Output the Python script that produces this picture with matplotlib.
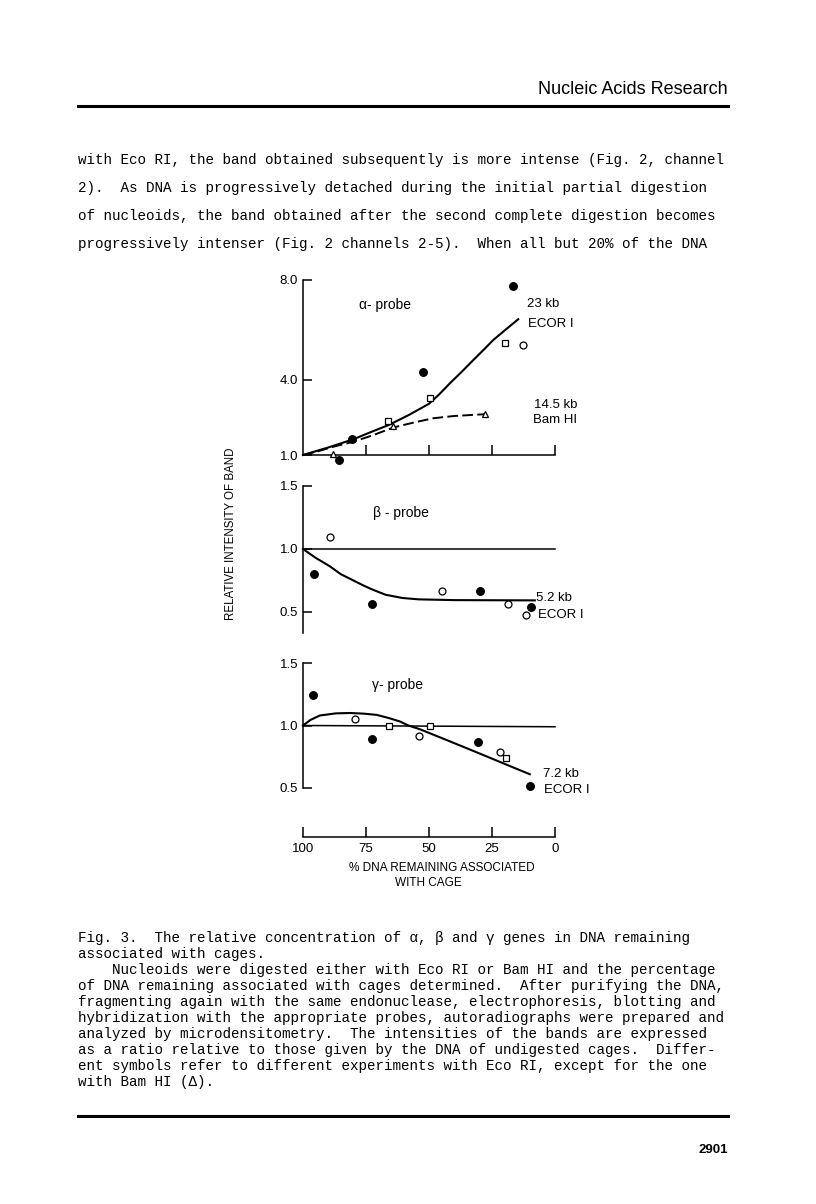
"""
plot.py - Nucleic Acids Research p.2901, Fig. 3 (alpha / beta / gamma probes)
"""
import matplotlib; matplotlib.use("Agg")
import matplotlib.pyplot as plt
from matplotlib.lines import Line2D

W, H = 816, 1204
SANS = ["Liberation Sans", "DejaVu Sans"]
MONO = ["Liberation Mono", "DejaVu Sans Mono"]
plt.rcParams["font.family"] = SANS

# --- data ---
x_ticks = [100, 75, 50, 25, 0]

# alpha probe
a_filled_x, a_filled_y = [16.5, 52.3, 80.4, 85.7], [7.76, 4.33, 1.63, 0.80]
a_square_x, a_square_y = [19.8, 49.6, 66.4], [5.47, 3.27, 2.37]
a_open_x, a_open_y = [12.6], [5.39]
a_tri_x, a_tri_y = [88.0, 64.2, 27.8], [1.04, 2.16, 2.64]
a_curve_x = [100, 90, 80, 73, 66, 58, 50, 46, 41.7, 37, 32.4, 28, 24.5, 20, 14.6]
a_curve_y = [1.0, 1.3, 1.63, 1.92, 2.2, 2.6, 3.05, 3.42, 3.87, 4.33, 4.8, 5.24, 5.6, 5.98, 6.43]
a_dash_x = [100, 94, 88, 80, 72, 64.2, 56, 48.3, 40, 30, 27.5]
a_dash_y = [1.0, 1.15, 1.33, 1.53, 1.8, 2.1, 2.3, 2.47, 2.56, 2.62, 2.63]

# beta probe
b_filled_x, b_filled_y = [95.5, 72.7, 29.8, 9.5], [0.80, 0.56, 0.67, 0.537]
b_open_x, b_open_y = [89.3, 44.7, 18.8, 11.6], [1.095, 0.67, 0.56, 0.476]
b_curve_x = [100, 95, 89.3, 85, 80.6, 76, 72.7, 67.3, 60.6, 54, 40, 8]
b_curve_y = [1.0, 0.93, 0.862, 0.8, 0.756, 0.71, 0.68, 0.637, 0.611, 0.6, 0.594, 0.592]

# gamma probe
g_filled_x, g_filled_y = [95.9, 72.7, 30.4, 9.9], [1.248, 0.888, 0.872, 0.514]
g_open_x, g_open_y = [79.4, 54.0, 21.8], [1.054, 0.912, 0.786]
g_square_x, g_square_y = [65.9, 49.6, 19.4], [0.995, 0.995, 0.738]
g_curve_x = [100, 97, 93.3, 87, 81.3, 76, 70.8, 66, 61.5, 58.2, 53.6, 45, 35, 25, 17, 10]
g_curve_y = [1.0, 1.045, 1.08, 1.097, 1.10, 1.095, 1.085, 1.06, 1.032, 1.0, 0.97, 0.9,
             0.818, 0.735, 0.668, 0.61]

body_lines = [
    "with Eco RI, the band obtained subsequently is more intense (Fig. 2, channel",
    "2).  As DNA is progressively detached during the initial partial digestion",
    "of nucleoids, the band obtained after the second complete digestion becomes",
    "progressively intenser (Fig. 2 channels 2-5).  When all but 20% of the DNA",
]
caption_lines = [
    "Fig. 3.  The relative concentration of α, β and γ genes in DNA remaining",
    "associated with cages.",
    "    Nucleoids were digested either with Eco RI or Bam HI and the percentage",
    "of DNA remaining associated with cages determined.  After purifying the DNA,",
    "fragmenting again with the same endonuclease, electrophoresis, blotting and",
    "hybridization with the appropriate probes, autoradiographs were prepared and",
    "analyzed by microdensitometry.  The intensities of the bands are expressed",
    "as a ratio relative to those given by the DNA of undigested cages.  Differ-",
    "ent symbols refer to different experiments with Eco RI, except for the one",
    "with Bam HI (Δ).",
]


def rect(x0, y0, x1, y1):
    return [x0 / W, 1 - y1 / H, (x1 - x0) / W, (y1 - y0) / H]


def ftext(x, y, s, **kw):
    fig.text(x / W, 1 - y / H, s, **kw)


def hrule(y, x0=78, x1=728, lw=2.2):
    fig.add_artist(Line2D([x0 / W, x1 / W], [1 - y / H] * 2, color="black", lw=lw))


def style(ax, yt, ylab, bottom=False):
    ax.set_xlim(100, 0)
    for s in ["top", "right"]:
        ax.spines[s].set_visible(False)
    ax.spines["bottom"].set_visible(bottom)
    ax.spines["left"].set_linewidth(1.1)
    ax.spines["bottom"].set_linewidth(1.1)
    ax.set_yticks(yt, ylab)
    ax.tick_params(axis="y", direction="in", length=6.5, width=1.1, pad=3.5, labelsize=9.5)
    if bottom:
        ax.set_xticks(x_ticks[1:], [])
        ax.tick_params(axis="x", direction="in", length=7, width=1.1)
    else:
        ax.set_xticks([])
    ax.patch.set_alpha(0)


def marks(ax, x, y, m, filled, ms):
    ax.plot(x, y, ls="none", marker=m, ms=ms, mew=0.9, mec="black",
            mfc="black" if filled else "white", clip_on=False, zorder=5)


fig = plt.figure(figsize=(W / 100, H / 100), dpi=100)

# --- page text ---
ftext(728, 90, "Nucleic Acids Research", fontsize=13, ha="right", va="center")
hrule(106)
for i, s in enumerate(body_lines):
    ftext(78, 160 + 28 * i, s, family=MONO, fontsize=10.25, va="center")
for i, s in enumerate(caption_lines):
    ftext(78, 938 + 16 * i, s, family=MONO, fontsize=10.25, va="center")
hrule(1116)
ftext(728, 1150, "2901", fontsize=9.5, weight="bold", ha="right", va="center")

# --- alpha panel ---
ax_a = fig.add_axes(rect(303, 280, 555, 455))
ax_a.set_ylim(1, 8)
style(ax_a, [1, 4, 8], ["1.0", "4.0", "8.0"], bottom=True)
ax_a.plot(a_curve_x, a_curve_y, color="black", lw=1.5, clip_on=False)
ax_a.plot(a_dash_x, a_dash_y, color="black", lw=1.4, dashes=(5.5, 2.2), clip_on=False)
marks(ax_a, a_filled_x, a_filled_y, "o", True, 5.5)
marks(ax_a, a_square_x, a_square_y, "s", False, 4.3)
marks(ax_a, a_open_x, a_open_y, "o", False, 5)
marks(ax_a, a_tri_x, a_tri_y, "^", False, 4.5)
ftext(385, 305, "α- probe", fontsize=10, ha="center", va="center")
ftext(527, 304, "23 kb", fontsize=9.5, va="center")
ftext(528, 324, "ECOR I", fontsize=9.5, va="center")
ftext(534, 405, "14.5 kb", fontsize=9.5, va="center")
ftext(533, 420, "Bam HI", fontsize=9.5, va="center")

# --- beta panel ---
ax_b = fig.add_axes(rect(303, 486, 555, 633))
ax_b.set_ylim(0.333, 1.5)
style(ax_b, [0.5, 1.0, 1.5], ["0.5", "1.0", "1.5"])
ax_b.plot([100, 0], [1.0, 1.0], color="black", lw=1.1, clip_on=False)
ax_b.plot(b_curve_x, b_curve_y, color="black", lw=1.5, clip_on=False)
marks(ax_b, b_filled_x, b_filled_y, "o", True, 5.5)
marks(ax_b, b_open_x, b_open_y, "o", False, 5)
ftext(401, 513, "β - probe", fontsize=10, ha="center", va="center")
ftext(536, 598, "5.2 kb", fontsize=9.5, va="center")
ftext(538, 615, "ECOR I", fontsize=9.5, va="center")

# --- gamma panel ---
ax_g = fig.add_axes(rect(303, 663, 555, 788))
ax_g.set_ylim(0.5, 1.5)
style(ax_g, [0.5, 1.0, 1.5], ["0.5", "1.0", "1.5"])
ax_g.plot([100, 0], [1.0, 0.99], color="black", lw=1.1, clip_on=False)
ax_g.plot(g_curve_x, g_curve_y, color="black", lw=1.5, clip_on=False)
marks(ax_g, g_filled_x, g_filled_y, "o", True, 5.5)
marks(ax_g, g_open_x, g_open_y, "o", False, 5)
marks(ax_g, g_square_x, g_square_y, "s", False, 4.3)
ftext(398, 685, "γ- probe", fontsize=10, ha="center", va="center")
ftext(543, 774, "7.2 kb", fontsize=9.5, va="center")
ftext(544, 790, "ECOR I", fontsize=9.5, va="center")

# --- shared x axis ---
ax_x = fig.add_axes(rect(303, 826, 555, 837))
ax_x.set_xlim(100, 0)
for s in ["top", "right", "left"]:
    ax_x.spines[s].set_visible(False)
ax_x.spines["bottom"].set_linewidth(1.1)
ax_x.set_yticks([])
ax_x.set_xticks(x_ticks, [str(v) for v in x_ticks])
ax_x.tick_params(axis="x", direction="in", length=7, width=1.1, pad=4, labelsize=9.5)
ax_x.patch.set_alpha(0)
ftext(442, 868, "% DNA REMAINING ASSOCIATED", fontsize=8.5, ha="center", va="center")
ftext(428, 883, "WITH CAGE", fontsize=8.5, ha="center", va="center")

ftext(231, 534, "RELATIVE INTENSITY OF BAND", fontsize=8.3, rotation=90,
      ha="center", va="center")

fig.savefig("out.png", dpi=100)
